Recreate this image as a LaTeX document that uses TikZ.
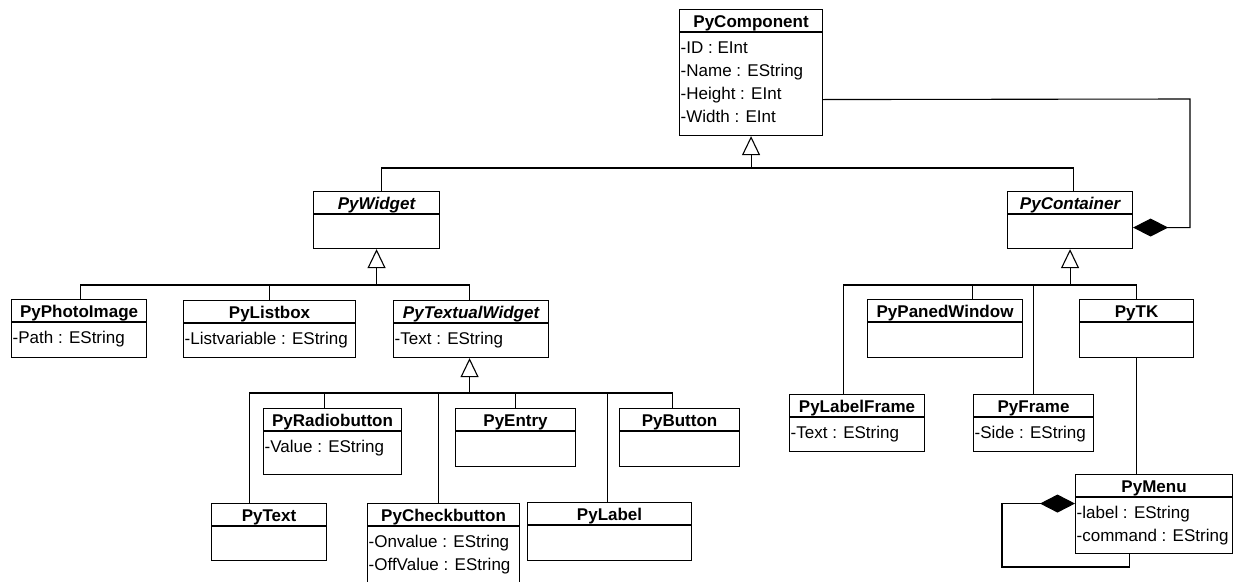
\documentclass[tikz,border=0pt]{standalone}
\usepackage{fontspec}
\setmainfont{Liberation Sans}
\usetikzlibrary{arrows.meta,calc}

\tikzset{
  classbox/.style={draw, line width=1.1pt, inner sep=0pt, fill=white},
  classtitle/.style={inner sep=0pt, font=\fontsize{17}{20}\selectfont\bfseries},
  abstracttitle/.style={classtitle, font=\fontsize{17}{20}\selectfont\bfseries\itshape},
  attr/.style={inner sep=0pt, font=\fontsize{17}{20}\selectfont},
  link/.style={line width=1.1pt},
  inherit/.style={link, -{Triangle[open, length=19pt, width=18pt]}},
  compose/.style={link, {Diamond[length=35pt, width=18pt, fill=black]}-},
}

% class box: name, left, top, width, height, title style, title
\newcommand\umlclass[7]{%
  \node[classbox, minimum width=#4pt, minimum height=#5pt, anchor=north west] (#1) at (#2,#3) {};
  \draw[link] ($(#1.north west)+(0,23)$) -- ($(#1.north east)+(0,23)$);
  \node[#6, anchor=base] (#1-title) at ($(#1.north)+(0,18.5)$) {#7};
}
% attribute lines of a class
\newcommand\umlattrs[2]{%
  \foreach \a [count=\i] in {#2} {
    \node[attr, anchor=base west] (#1-attr\i) at ($(#1.north west)+(1.5,{21+23*\i})$) {\a};
  }
}

\begin{document}
\begin{tikzpicture}[x=1pt, y=-1pt]
  \useasboundingbox (0,0) rectangle (1234,581);
  \fill[white] (0,0) rectangle (1234,581);
  \clip (0,0) rectangle (1234,581);

  % classes
  \umlclass{PyComponent}{679}{9}{143}{126}{classtitle}{PyComponent}
  \umlattrs{PyComponent}{{-ID : EInt},{-Name : EString},{-Height : EInt},{-Width : EInt}}

  \umlclass{PyWidget}{313}{191}{126}{57}{abstracttitle}{PyWidget}
  \umlclass{PyContainer}{1007}{191}{125}{57}{abstracttitle}{PyContainer}

  \umlclass{PyPhotoImage}{11}{299}{135}{58}{classtitle}{PyPhotoImage}
  \umlattrs{PyPhotoImage}{{-Path : EString}}
  \umlclass{PyListbox}{183}{300}{172}{57}{classtitle}{PyListbox}
  \umlattrs{PyListbox}{{-Listvariable : EString}}
  \umlclass{PyTextualWidget}{393}{300}{155}{57}{abstracttitle}{PyTextualWidget}
  \umlattrs{PyTextualWidget}{{-Text : EString}}

  \umlclass{PyRadiobutton}{263}{408}{138}{66}{classtitle}{PyRadiobutton}
  \umlattrs{PyRadiobutton}{{-Value : EString}}
  \umlclass{PyEntry}{455}{408}{120}{58}{classtitle}{PyEntry}
  \umlclass{PyButton}{619}{408}{120}{58}{classtitle}{PyButton}
  \umlclass{PyText}{211}{503}{115}{57}{classtitle}{PyText}
  \umlclass{PyCheckbutton}{367}{503}{152}{100}{classtitle}{PyCheckbutton}
  \umlattrs{PyCheckbutton}{{-Onvalue : EString},{-OffValue : EString}}
  \umlclass{PyLabel}{527}{502}{164}{58}{classtitle}{PyLabel}

  \umlclass{PyPanedWindow}{867}{299}{155}{58}{classtitle}{PyPanedWindow}
  \umlclass{PyTK}{1079}{299}{114}{58}{classtitle}{PyTK}
  \umlclass{PyLabelFrame}{789}{394}{135}{57}{classtitle}{PyLabelFrame}
  \umlattrs{PyLabelFrame}{{-Text : EString}}
  \umlclass{PyFrame}{973}{394}{120}{57}{classtitle}{PyFrame}
  \umlattrs{PyFrame}{{-Side : EString}}
  \umlclass{PyMenu}{1075}{474}{157}{79}{classtitle}{PyMenu}
  \umlattrs{PyMenu}{{-label : EString},{-command : EString}}

  % generalization: PyComponent
  \coordinate (b1) at (PyComponent.south |- 0,168);
  \draw[inherit] (b1) -- (PyComponent.south);
  \draw[link] (b1) -| ([xshift=5pt]PyWidget.north);
  \draw[link] (b1) -| ([xshift=3.5pt]PyContainer.north);

  % generalization: PyWidget
  \coordinate (b2) at (PyWidget.south |- 0,285);
  \draw[inherit] (b2) -- (PyWidget.south);
  \draw[link] (b2) -| ([xshift=1.5pt]PyPhotoImage.north);
  \draw[link] (b2) -| (PyListbox.north);
  \draw[link] (b2) -| ([xshift=-1.5pt]PyTextualWidget.north);

  % generalization: PyTextualWidget
  \coordinate (b3) at ([xshift=-1.5pt]PyTextualWidget.south |- 0,393);
  \draw[inherit] (b3) -- ([xshift=-1.5pt]PyTextualWidget.south);
  \draw[link] (b3) -| ([xshift=-19.5pt]PyText.north);
  \draw[link] (b3) -| ([xshift=-8pt]PyRadiobutton.north);
  \draw[link] (b3) -| ([xshift=-5pt]PyCheckbutton.north);
  \draw[link] (b3) -| (PyEntry.north);
  \draw[link] (b3) -| ([xshift=-2pt]PyLabel.north);
  \draw[link] (b3) -| ([xshift=-7pt]PyButton.north);

  % generalization: PyContainer
  \coordinate (b4) at (PyContainer.south |- 0,285);
  \draw[inherit] (b4) -- (PyContainer.south);
  \draw[link] (b4) -| ([xshift=-13.5pt]PyLabelFrame.north);
  \draw[link] (b4) -| ([xshift=27.5pt]PyPanedWindow.north);
  \draw[link] (b4) -| (PyFrame.north);
  \draw[link] (b4) -| (PyTK.north);

  % association PyTK -- PyMenu
  \draw[link] (PyTK.south) -- (PyTK.south |- PyMenu.north);

  % composition: PyContainer holds PyComponents
  \coordinate (c1) at (1190,99);
  \draw[compose] ([yshift=-7.5pt]PyContainer.east) -| (c1) -- ([yshift=-27pt]PyComponent.east);

  % composition: PyMenu holds PyMenus
  \coordinate (m1) at (1002,567);
  \draw[compose] ([yshift=10.5pt]PyMenu.west) -| (m1) -| ([xshift=-24.5pt]PyMenu.south);
\end{tikzpicture}
\end{document}
